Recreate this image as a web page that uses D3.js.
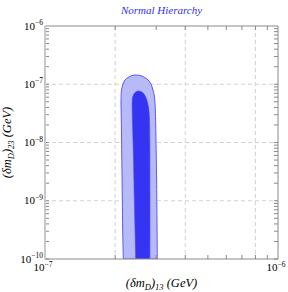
<body style="margin:0">
<script src="https://d3js.org/d3.v7.min.js"></script>
<style>
  svg { font-family: "Liberation Serif", "DejaVu Serif", serif; }
  .grid line { stroke: #d2d2d2; stroke-dasharray: 4,3; }
  .tick-m line { stroke: #888; }
</style>
<script>
  // axis setup
  var xDomain = [1e-7, 1e-6],
      yDomain = [1e-10, 1e-6];
  var xGrid = [2e-7, 4e-7, 8e-7],
      yGrid = [1e-7, 1e-8, 1e-9];
  var xTickLabels = [{v: 1e-7, e: "\u22127"}, {v: 1e-6, e: "\u22126"}],
      yTickLabels = [{v: 1e-6, e: "\u22126"}, {v: 1e-7, e: "\u22127"}, {v: 1e-8, e: "\u22128"},
                     {v: 1e-9, e: "\u22129"}, {v: 1e-10, e: "\u221210"}];

  // outer (light) region boundary, [x, y]
  var outer = [
    [2.168e-7, 1e-10], [2.155e-7, 3.15e-10], [2.147e-7, 1.03e-9], [2.137e-7, 5.01e-9],
    [2.126e-7, 2.43e-8], [2.12e-7, 5.37e-8], [2.13e-7, 7.96e-8], [2.162e-7, 1.01e-7],
    [2.204e-7, 1.183e-7], [2.27e-7, 1.305e-7], [2.362e-7, 1.413e-7], [2.458e-7, 1.441e-7],
    [2.557e-7, 1.413e-7], [2.66e-7, 1.331e-7], [2.768e-7, 1.183e-7], [2.85e-7, 1.01e-7],
    [2.907e-7, 7.96e-8], [2.951e-7, 6.04e-8], [2.974e-7, 3.61e-8], [2.995e-7, 1.10e-8],
    [3.013e-7, 2.27e-9], [3.034e-7, 1e-10]
  ];
  // inner (dark) region boundary
  var inner = [
    [2.451e-7, 1e-10], [2.434e-7, 3.15e-10], [2.417e-7, 1.03e-9], [2.398e-7, 5.01e-9],
    [2.379e-7, 1.64e-8], [2.367e-7, 3.61e-8], [2.369e-7, 5.37e-8], [2.386e-7, 6.28e-8],
    [2.434e-7, 7.22e-8], [2.507e-7, 7.66e-8], [2.582e-7, 7.51e-8], [2.66e-7, 6.8e-8],
    [2.727e-7, 5.58e-8], [2.776e-7, 4.23e-8], [2.803e-7, 2.96e-8], [2.817e-7, 1.10e-8],
    [2.822e-7, 1.03e-9], [2.822e-7, 1e-10]
  ];

  var pL = 45, pR = 278, pT = 26, pB = 259;

  var x = d3.scaleLog().domain(xDomain).range([pL, pR]),
      y = d3.scaleLog().domain(yDomain).range([pB, pT]);

  var svg = d3.select("body").append("svg")
      .attr("width", 288)
      .attr("height", 292);

  svg.append("clipPath").attr("id", "clip")
    .append("rect").attr("x", pL).attr("y", pT)
      .attr("width", pR - pL).attr("height", pB - pT);

  // grid lines
  var grid = svg.append("g").attr("class", "grid");
  grid.selectAll(".gx").data(xGrid).enter().append("line")
      .attr("x1", d => x(d)).attr("x2", d => x(d))
      .attr("y1", pT).attr("y2", pB);
  grid.selectAll(".gy").data(yGrid).enter().append("line")
      .attr("x1", pL).attr("x2", pR)
      .attr("y1", d => y(d)).attr("y2", d => y(d));

  // regions
  var line = d3.line()
      .x(d => x(d[0]))
      .y(d => y(d[1]))
      .curve(d3.curveCatmullRom);

  var plot = svg.append("g").attr("clip-path", "url(#clip)");
  plot.append("path")
      .attr("d", line(outer) + "Z")
      .attr("fill", "#b6bbf8")
      .attr("stroke", "#5a5af2")
      .attr("stroke-width", 1);
  plot.append("path")
      .attr("d", line(inner) + "Z")
      .attr("fill", "#3434f2")
      .attr("stroke", "#4a4af0")
      .attr("stroke-width", 0.6);

  // minor ticks
  var minorX = [], minorY = [];
  for (var k = 2; k <= 9; k++) minorX.push(k * 1e-7);
  for (var e = -10; e < -6; e++) for (var k = 1; k <= 9; k++) minorY.push(k * Math.pow(10, e));
  var ticks = svg.append("g").attr("class", "tick-m");
  ticks.selectAll(".tb").data(minorX).enter().append("line")
      .attr("x1", d => x(d)).attr("x2", d => x(d))
      .attr("y1", pB).attr("y2", pB - 4);
  ticks.selectAll(".tt").data(minorX).enter().append("line")
      .attr("x1", d => x(d)).attr("x2", d => x(d))
      .attr("y1", pT).attr("y2", pT + 4);
  ticks.selectAll(".tl").data(minorY).enter().append("line")
      .attr("x1", pL).attr("x2", pL + 4)
      .attr("y1", d => y(d)).attr("y2", d => y(d));
  ticks.selectAll(".tr").data(minorY).enter().append("line")
      .attr("x1", pR).attr("x2", pR - 4)
      .attr("y1", d => y(d)).attr("y2", d => y(d));

  // frame
  svg.append("path")
      .attr("d", "M" + pL + "," + pT + "H" + pR + "V" + pB + "H" + pL)
      .attr("fill", "none").attr("stroke", "#8a8a8a").attr("stroke-width", 1);
  svg.append("line")
      .attr("x1", pL).attr("x2", pL).attr("y1", pT).attr("y2", pB)
      .attr("stroke", "#c8c8c8").attr("stroke-width", 2);

  // tick labels
  svg.selectAll(".xl").data(xTickLabels).enter().append("text")
      .attr("x", d => x(d.v) - 2).attr("y", 271)
      .attr("text-anchor", "middle").attr("font-size", "11px")
      .each(function(d) {
        var t = d3.select(this);
        t.append("tspan").text("10");
        t.append("tspan").attr("dy", -4.5).attr("font-size", "7.5px").text(d.e);
      });
  svg.selectAll(".yl").data(yTickLabels).enter().append("text")
      .attr("x", 43).attr("y", d => y(d.v) + 3.5)
      .attr("text-anchor", "end").attr("font-size", "11px")
      .each(function(d) {
        var t = d3.select(this);
        t.append("tspan").text("10");
        t.append("tspan").attr("dy", -4.5).attr("font-size", "7.5px").text(d.e);
      });

  // title
  svg.append("text")
      .attr("x", (pL + pR) / 2).attr("y", 14)
      .attr("text-anchor", "middle")
      .attr("font-size", "11px").attr("font-style", "italic")
      .attr("fill", "#3030e8")
      .text("Normal Hierarchy");

  // axis labels
  function axisLabel(t, sub1, sub2) {
    t.append("tspan").text("(\u03b4m");
    t.append("tspan").attr("dy", 2.5).attr("font-size", "8.5px").text(sub1);
    t.append("tspan").attr("dy", -2.5).text(")");
    t.append("tspan").attr("dy", 2.5).attr("font-size", "8.5px").text(sub2);
    t.append("tspan").attr("dy", -2.5).text(" (GeV)");
  }
  var xl = svg.append("text")
      .attr("x", (pL + pR) / 2).attr("y", 287)
      .attr("text-anchor", "middle")
      .attr("font-size", "12.5px").attr("font-style", "italic");
  axisLabel(xl, "D", "13");
  var yl = svg.append("text")
      .attr("transform", "translate(11," + ((pT + pB) / 2) + ") rotate(-90)")
      .attr("text-anchor", "middle")
      .attr("font-size", "12.5px").attr("font-style", "italic");
  axisLabel(yl, "D", "23");
</script>
</body>
